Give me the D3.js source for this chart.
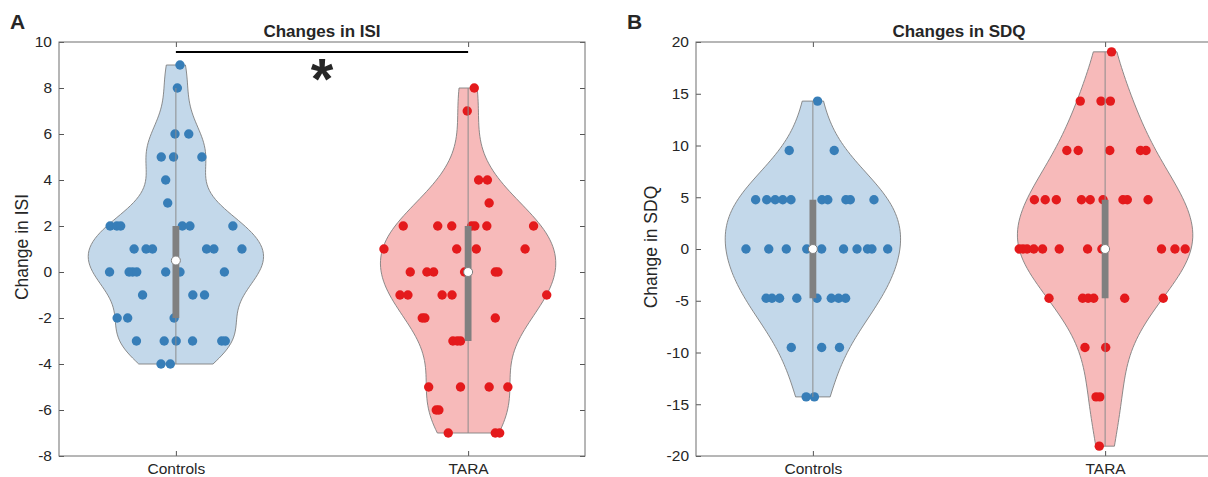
<!DOCTYPE html>
<html>
<head>
<meta charset="utf-8">
<script src="https://cdn.jsdelivr.net/npm/d3@7"></script>
<style>
  body { margin: 0; background: #fff; }
  text { font-family: "Liberation Sans", Arial, sans-serif; fill: #262626; }
</style>
</head>
<body>
<svg width="1208" height="477"></svg>
<script>
const svg = d3.select("svg");

const groups = ["Controls", "TARA"];
const groupColours = ["#377eb8", "#e41a1c"];

// ISI change per participant, with the horizontal jitter of each dot (group units)
const isiControls = [9, 8, 6, 6, 5, 5, 5, 4, 3,
    2, 2, 2, 2, 2, 2, 1, 1, 1, 1, 1, 1,
    0, 0, 0, 0, 0, 0, 0, -1, -1, -1, -2, -2, -2,
    -3, -3, -3, -3, -3, -3, -4, -4];
const isiControlsJitter = [0.014, 0.005, -0.003, 0.044, -0.050, -0.008, 0.089, -0.035, -0.028,
    -0.225, -0.202, -0.189, 0.022, 0.048, 0.195, -0.143, -0.102, -0.080, 0.105, 0.130, 0.226,
    -0.227, -0.160, -0.148, -0.134, -0.035, 0.014, 0.166, -0.114, 0.058, 0.098, -0.201, -0.165, -0.006,
    -0.135, -0.040, 0.001, 0.057, 0.157, 0.169, -0.051, -0.019];

const isiTara = [8, 7, 4, 4, 3,
    2, 2, 2, 2, 2, 2, 2, 1, 1, 1, 1,
    0, 0, 0, 0, 0, 0, -1, -1, -1, -1, -1,
    -2, -2, -2, -3, -3, -3, -5, -5, -5, -5, -6, -6, -7, -7, -7];
const isiTaraJitter = [0.021, -0.003, 0.036, 0.066, 0.072,
    -0.222, -0.104, -0.056, 0.012, 0.023, 0.064, 0.224, -0.288, -0.039, 0.028, 0.195,
    -0.198, -0.141, -0.118, -0.012, 0.093, 0.102, -0.233, -0.206, -0.089, -0.055, 0.269,
    -0.157, -0.148, 0.093, -0.052, -0.037, -0.026, -0.135, -0.026, 0.072, 0.136, -0.109, -0.100, -0.068, 0.093, 0.108];

// SDQ change per participant
const sdqControls = [14.29, 9.52, 9.52,
    4.76, 4.76, 4.76, 4.76, 4.76, 4.76, 4.76, 4.76, 4.76, 4.76,
    0, 0, 0, 0, 0, 0, 0, 0, 0, 0,
    -4.76, -4.76, -4.76, -4.76, -4.76, -4.76, -4.76, -4.76,
    -9.52, -9.52, -9.52, -14.29, -14.29];
const sdqControlsJitter = [0.016, -0.081, 0.073,
    -0.196, -0.158, -0.129, -0.103, -0.075, 0.031, 0.051, 0.113, 0.128, 0.209,
    -0.229, -0.151, -0.091, -0.021, 0.030, 0.105, 0.151, 0.187, 0.202, 0.256,
    -0.160, -0.140, -0.114, -0.055, 0.014, 0.063, 0.088, 0.112,
    -0.074, 0.030, 0.091, -0.023, 0.005];

const sdqTara = [19.05, 14.29, 14.29, 14.29,
    9.52, 9.52, 9.52, 9.52, 9.52,
    4.76, 4.76, 4.76, 4.76, 4.76, 4.76, 4.76, 4.76, 4.76,
    0, 0, 0, 0, 0, 0, 0, 0, 0, 0, 0,
    -4.76, -4.76, -4.76, -4.76, -4.76, -4.76,
    -9.52, -9.52, -14.29, -14.29, -19.05];
const sdqTaraJitter = [0.022, -0.085, -0.014, 0.018,
    -0.131, -0.092, 0.016, 0.121, 0.140,
    -0.242, -0.205, -0.167, -0.081, -0.051, -0.007, 0.061, 0.076, 0.147,
    -0.294, -0.281, -0.267, -0.244, -0.214, -0.157, -0.060, -0.011, 0.193, 0.239, 0.274,
    -0.192, -0.077, -0.058, -0.039, 0.067, 0.199,
    -0.069, 0.002, -0.031, -0.018, -0.020];

const isiTicks = d3.range(-8, 11, 2);
const sdqTicks = d3.range(-20, 21, 5);

// MATLAB-style quantile (position p*n + 0.5)
const quantileM = (v, p) => {
    const s = v.slice().sort(d3.ascending), n = s.length;
    const pos = p * n + 0.5;
    if (pos <= 1) return s[0];
    if (pos >= n) return s[n - 1];
    const i = Math.floor(pos);
    return s[i - 1] + (pos - i) * (s[i] - s[i - 1]);
};

// ksdensity default bandwidth (normal rule with MAD)
const bandwidth = v => {
    const m = d3.median(v);
    const mad = d3.median(v, x => Math.abs(x - m));
    return mad / 0.6745 * Math.pow(4 / (3 * v.length), 0.2);
};

const kde = (v, bw) => y =>
    d3.mean(v, x => Math.exp(-0.5 * ((y - x) / bw) ** 2)) / (bw * Math.sqrt(2 * Math.PI));

drawPanel = opts => {
    const { left, top, w, h } = opts;
    const g = svg.append("g").attr("transform", `translate(${left},${top})`);

    const x = d3.scaleLinear().domain([0.6, 2.4]).range([0, w]);
    const y = d3.scaleLinear().domain(opts.yDomain).range([h, 0]);

    // Violins, dots, whisker, box and median for each group
    opts.series.forEach((s, i) => {
        const pos = i + 1;
        const lo = d3.min(s.values), hi = d3.max(s.values);
        const dens = kde(s.values, bandwidth(s.values));
        const grid = d3.range(101).map(k => lo + (hi - lo) * k / 100);
        const d = grid.map(dens);
        const scaleW = 0.3 / d3.max(d);
        const outline = grid.map((v, k) => [pos + d[k] * scaleW, v])
            .concat(grid.slice().reverse().map((v, k) => [pos - d[100 - k] * scaleW, v]));

        g.append("path")
            .attr("d", d3.line().x(p => x(p[0])).y(p => y(p[1]))(outline) + "Z")
            .attr("fill", groupColours[i])
            .attr("fill-opacity", 0.3)
            .attr("stroke", "#7f7f7f")
            .attr("stroke-width", 0.9);

        g.append("g").selectAll("circle").data(s.values)
            .enter().append("circle")
            .attr("cx", (v, k) => x(pos + s.jitter[k]))
            .attr("cy", v => y(v))
            .attr("r", 4.7)
            .attr("fill", groupColours[i]);

        const q1 = quantileM(s.values, 0.25), med = quantileM(s.values, 0.5), q3 = quantileM(s.values, 0.75);
        const iqr = q3 - q1;
        // values are rounded to 2 decimals, so allow a little slack at the fences
        const lowW = d3.min(s.values.filter(v => v >= q1 - 1.5 * iqr - 0.02));
        const hiW = d3.max(s.values.filter(v => v <= q3 + 1.5 * iqr + 0.02));

        g.append("line")
            .attr("x1", x(pos)).attr("x2", x(pos))
            .attr("y1", y(lowW)).attr("y2", y(hiW))
            .attr("stroke", "#8c8c8c")
            .attr("stroke-width", 1);

        g.append("rect")
            .attr("x", x(pos) - 3.4)
            .attr("width", 6.8)
            .attr("y", y(q3))
            .attr("height", y(q1) - y(q3))
            .attr("fill", "#808080");

        g.append("circle")
            .attr("cx", x(pos))
            .attr("cy", y(med))
            .attr("r", 4.5)
            .attr("fill", "#fff")
            .attr("stroke", "#808080")
            .attr("stroke-width", 1);
    });

    // Axes, ticks inward on all four sides
    const tickStyle = a => {
        a.select(".domain").remove();
        a.selectAll(".tick line").attr("stroke", "#555");
        a.selectAll("text").attr("font-size", 15.5).attr("fill", "#262626");
    };

    g.append("g")
        .call(d3.axisLeft(y).tickValues(opts.yTicks).tickSize(-5).tickPadding(7).tickFormat(v => String(v)))
        .call(tickStyle);
    g.append("g").attr("transform", `translate(${w},0)`)
        .call(d3.axisRight(y).tickValues(opts.yTicks).tickSize(-5).tickFormat("")).call(tickStyle);
    g.append("g").attr("transform", `translate(0,${h})`)
        .call(d3.axisBottom(x).tickValues([1, 2]).tickFormat(v => groups[v - 1]).tickSize(-5).tickPadding(7))
        .call(tickStyle);
    g.append("g")
        .call(d3.axisTop(x).tickValues([1, 2]).tickSize(-5).tickFormat("")).call(tickStyle);

    g.append("rect")
        .attr("width", w).attr("height", h)
        .attr("fill", "none")
        .attr("stroke", "#6e6e6e")
        .attr("stroke-width", 1);

    g.append("text")
        .attr("x", w / 2).attr("y", -5)
        .attr("text-anchor", "middle")
        .attr("font-size", 17).attr("font-weight", "bold")
        .attr("fill", "#000")
        .text(opts.title);

    g.append("text")
        .attr("transform", `translate(${opts.labelX - left},${h / 2 - 2}) rotate(-90)`)
        .attr("text-anchor", "middle")
        .attr("font-size", 17.5)
        .text(opts.yLabel);

    svg.append("text")
        .attr("x", opts.letterX).attr("y", 29)
        .attr("font-size", 21).attr("font-weight", "bold")
        .attr("fill", "#000")
        .text(opts.letter);

    if (opts.significant) {
        g.append("line")
            .attr("x1", x(1)).attr("x2", x(2))
            .attr("y1", 10).attr("y2", 10)
            .attr("stroke", "#000")
            .attr("stroke-width", 2.2);
        g.append("text")
            .attr("x", (x(1) + x(2)) / 2).attr("y", 57)
            .attr("text-anchor", "middle")
            .attr("font-size", 58).attr("font-weight", "bold")
            .attr("fill", "#000")
            .text("*");
    }
};

drawPanel({
    left: 59, top: 42, w: 526, h: 414,
    yDomain: [-8, 10], yTicks: isiTicks,
    series: [{ values: isiControls, jitter: isiControlsJitter }, { values: isiTara, jitter: isiTaraJitter }],
    title: "Changes in ISI", yLabel: "Change in ISI", labelX: 28,
    letter: "A", letterX: 10, significant: true
});

drawPanel({
    left: 696, top: 42, w: 526, h: 414,
    yDomain: [-20, 20], yTicks: sdqTicks,
    series: [{ values: sdqControls, jitter: sdqControlsJitter }, { values: sdqTara, jitter: sdqTaraJitter }],
    title: "Changes in SDQ", yLabel: "Change in SDQ", labelX: 657,
    letter: "B", letterX: 627, significant: false
});
</script>
</body>
</html>
